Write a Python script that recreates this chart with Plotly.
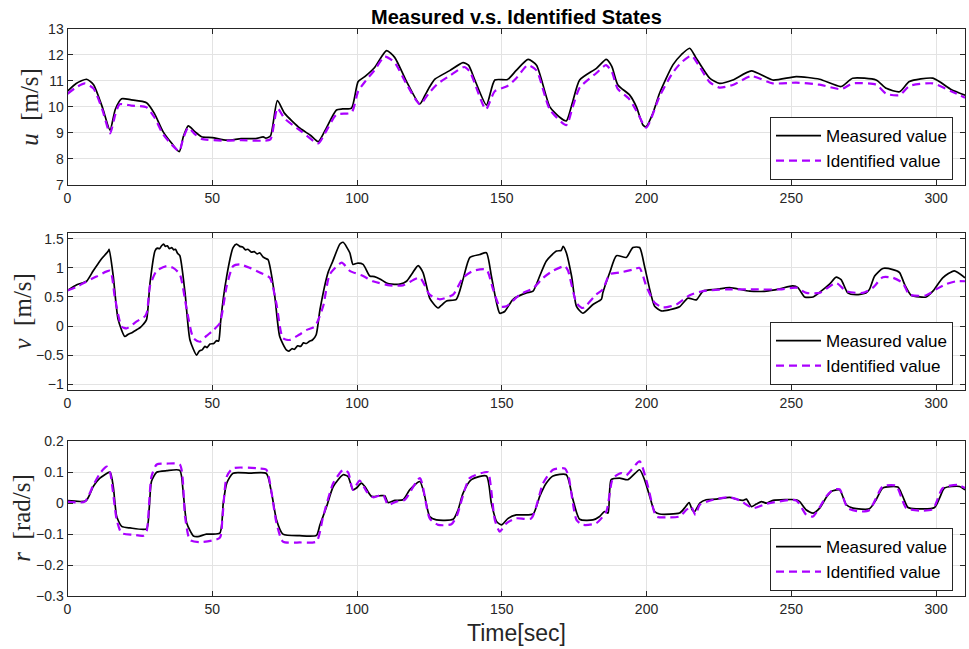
import plotly.graph_objects as go

# ---------------- data (time [s], value) ----------------
u_measured = [(0,10.6),(3,10.9),(6.6,11.06),(9,10.85),(12,10.0),(14.7,9.11),(16.5,9.9),(18.7,10.31),
    (22,10.27),(27.3,10.16),(30,9.75),(33,9.05),(36,8.6),(38.6,8.28),(40,8.85),(41.7,9.27),(44,9.05),
    (46.3,8.85),(50,8.82),(55,8.72),(60,8.78),(65,8.78),(67.6,8.85),(68.5,8.8),(70.1,8.88),(72.5,10.24),
    (75,9.75),(80.3,9.18),(84,8.9),(86.6,8.66),(89,9.1),(92.9,9.88),(95,9.92),(98.1,9.95),(100.4,10.97),
    (102.7,11.16),(106,11.5),(110.2,12.16),(113,11.9),(117,11.0),(121.7,10.11),(123.5,10.45),(125.1,10.77),
    (126.9,11.06),(132,11.39),(136.6,11.7),(138.5,11.6),(140.7,11.03),(144.7,10.07),(147.6,11.03),
    (152,11.05),(155,11.4),(159.1,11.82),(162,11.6),(166.6,10.0),(170,9.6),(172.3,9.46),(174.5,10.2),
    (176.9,11.03),(182.7,11.48),(186.1,11.82),(188,11.55),(190.1,10.84),(194.2,10.45),(196.5,10.0),
    (198.8,9.3),(199.9,9.24),(202,9.7),(204.5,10.52),(209.1,11.61),(212,12.0),(214.9,12.25),(217,11.9),
    (221.8,11.1),(225.2,10.9),(229.8,11.03),(236.2,11.38),(243.6,11.03),(251.7,11.16),(259.8,11.06),
    (267.2,10.78),(271.2,11.1),(279.3,11.03),(282.8,10.71),(287.4,10.58),(290.8,10.97),(298.9,11.1),
    (305.2,10.67),(310,10.45)]
u_identified = [(0,10.5),(3,10.75),(6,10.9),(9,10.7),(12,9.9),(14.7,8.98),(16.5,9.7),(18,10.1),
    (22,10.05),(27.3,9.98),(30,9.6),(33,8.95),(36,8.55),(38.6,8.3),(40,8.8),(41.7,9.2),(44,8.95),
    (46.3,8.77),(55,8.7),(60,8.72),(67.6,8.7),(70.1,8.75),(72.5,9.95),(75,9.55),(80.3,9.1),(86.6,8.6),
    (89,9.0),(92.9,9.7),(98.1,9.78),(100.4,10.6),(103,11.0),(106,11.4),(109.6,11.93),(113,11.7),
    (117,10.9),(121.7,10.1),(125,10.55),(128,10.9),(132,11.19),(137,11.53),(139,11.35),(141,10.8),
    (144.5,9.9),(147.6,10.6),(152,10.8),(155,11.1),(159,11.6),(162,11.4),(166.6,9.9),(172.3,9.3),
    (174.5,10.0),(177,10.75),(182.7,11.3),(186,11.6),(188,11.35),(190,10.7),(194,10.3),(196.5,9.85),
    (199.9,9.2),(204.5,10.4),(209,11.3),(212,11.7),(215.5,11.97),(218,11.6),(221.8,10.95),(225.2,10.74),
    (230,10.85),(236.2,11.18),(243.6,10.9),(251.7,10.93),(259.8,10.85),(267.2,10.68),(271.2,10.9),
    (279.3,10.85),(282.8,10.5),(287.4,10.45),(290.8,10.8),(298.9,10.9),(305.2,10.6),(310,10.35)]

v_measured = [(0,0.61),(3.2,0.71),(5,0.74),(6.6,0.77),(8.9,0.95),(11.2,1.12),(14.1,1.29),(14.4,1.32),
    (15.8,0.86),(17.5,0.11),(19.8,-0.18),(21,-0.14),(22,-0.12),(23,-0.09),(24,-0.06),(25,-0.03),
    (26.2,0.03),(27.3,0.11),
    (28.5,0.74),(30.2,1.29),(31,1.34),(31.8,1.33),(32.5,1.38),(33.2,1.41),(33.8,1.37),(34.5,1.38),
    (35.2,1.33),(36,1.35),(36.7,1.31),(37.3,1.32),(38,1.25),(38.8,1.21),
    (40.6,0.57),(42.3,-0.24),(44.6,-0.5),(45.5,-0.43),(46.5,-0.41),(47.5,-0.35),(48.2,-0.37),(49.2,-0.31),
    (50.5,-0.30),(51.5,-0.25),(52.2,-0.26),(52.6,-0.12),
    (52.9,0.08),(55,0.86),(57.2,1.35),(58.4,1.41),(59.5,1.37),(60.5,1.36),(61.5,1.31),(62.3,1.32),
    (63.5,1.27),(64.5,1.28),(65.5,1.24),(66.4,1.26),(67.5,1.19),(68.5,1.16),(69.3,1.14),(69.9,1.03),
    (71.6,0.51),(73.3,-0.18),(75.6,-0.41),(76.5,-0.43),(77.5,-0.39),(78.4,-0.40),(79.5,-0.34),(80.5,-0.35),
    (81.5,-0.29),(82.5,-0.30),(83.6,-0.26),(84.6,-0.24),(85.9,-0.15),(87.2,0.28),
    (90,0.92),(91.5,1.1),(94.1,1.41),(95.2,1.44),(97.5,1.26),(98.6,1.06),(100,1.08),
    (102.1,1.06),(104.4,0.86),(106,0.85),(107.9,0.81),(110.2,0.74),(112,0.72),(114.8,0.72),(117.1,0.77),
    (119,0.9),(121.1,1.04),(122.8,0.92),(125.1,0.48),(126.5,0.38),(128,0.31),(129,0.35),(130.9,0.43),
    (134.3,0.46),(136.6,0.8),(139,1.18),(142.4,1.23),(144.7,1.26),(146.4,0.86),(148.2,0.40),(149.3,0.22),
    (151,0.25),(153.9,0.46),(158.5,0.57),(160.8,0.6),(163.1,0.86),(165.4,1.12),(168.9,1.29),(170.5,1.3),
    (171.2,1.37),(172.3,1.26),(174.1,0.86),(175.8,0.34),(178,0.22),(181.5,0.37),(184.4,0.46),(184.9,0.57),
    (187.3,0.92),(189.6,1.21),(193,1.18),(195.3,1.35),(197.6,1.35),(199.3,1.03),(201.1,0.63),(202.8,0.34),
    (205.1,0.26),(208,0.28),(211.4,0.33),(214.3,0.48),(217.2,0.45),(219.5,0.60),(224.1,0.63),(228.7,0.66),
    (235.6,0.60),(241.4,0.60),(246,0.64),(250.5,0.69),(252.3,0.66),(254.6,0.50),(257.5,0.50),(260.3,0.60),
    (263.2,0.72),(265.5,0.84),(267.2,0.80),(269.5,0.57),(272.4,0.54),(275.8,0.57),(277,0.63),(278.8,0.86),
    (281.6,0.99),(285.1,0.97),(287.4,0.92),(289.1,0.72),(291.4,0.53),(294.3,0.50),(296.6,0.50),(298.9,0.60),
    (302.3,0.83),(306.3,0.95),(310,0.83)]
v_identified = [(0,0.61),(3,0.67),(6,0.75),(10,0.85),(14.7,0.95),(16.3,0.51),(18.7,-0.01),(20.4,-0.04),
    (23.9,0.08),(26.8,0.17),(27.5,0.25),(28.5,0.69),(30.8,0.95),(34.3,1.03),(36.5,1.0),(38.8,0.89),
    (41.2,0.28),(43.5,-0.21),(45.8,-0.27),(48,-0.17),(50.4,-0.07),(52.6,0.05),(55,0.69),(57.2,1.03),
    (59.5,1.06),(63,1.0),(66.4,0.92),(69.9,0.83),(72.1,0.40),(74.4,-0.21),(76.7,-0.24),(80,-0.15),
    (82.5,-0.07),(85.4,-0.01),(88.3,0.34),(90.6,0.89),(94.7,1.09),(97.5,0.95),(102.1,0.86),(105.5,0.77),
    (111.3,0.70),(115.9,0.70),(121.7,0.83),(125.1,0.54),(128.6,0.46),(133.2,0.54),(136.6,0.83),
    (140.1,0.95),(144.7,0.97),(147,0.63),(149.3,0.34),(151.6,0.34),(156.2,0.54),(160.8,0.65),(164.3,0.83),
    (167.7,0.95),(171.8,1.03),(172.9,0.95),(175.8,0.40),(178,0.31),(182.6,0.54),(184.9,0.63),(187.3,0.89),
    (190.7,0.92),(195.3,0.97),(197.6,1.0),(199.9,0.69),(202.8,0.40),(205.7,0.32),(210.3,0.37),(214.9,0.53),
    (219.5,0.60),(227.5,0.63),(236.7,0.63),(246,0.63),(251.7,0.66),(255.2,0.57),(259.8,0.57),(265.5,0.74),
    (269,0.60),(274.7,0.57),(278.2,0.66),(281.6,0.84),(285.1,0.83),(288.5,0.74),(290.8,0.54),(296.6,0.53),
    (300,0.63),(303.5,0.72),(306.9,0.77),(310,0.77)]

r_measured = [(0,0.008),(6.4,0.008),(8.9,0.054),(11.2,0.081),(14.7,0.1),(15.8,0.054),(17,-0.043),
    (18.7,-0.075),(21.6,-0.08),(27.3,-0.083),(28.2,-0.02),(29,0.07),(30.8,0.1),(34.3,0.105),(38.8,0.106),
    (40,0.03),(41.2,-0.065),(43.5,-0.106),(45,-0.108),(48,-0.1),(52.6,-0.097),(53.8,0),(55,0.065),
    (57.2,0.097),(63,0.097),(68.7,0.096),(70.5,0.032),(72.2,-0.054),(74.4,-0.1),(80.2,-0.105),(86,-0.104),
    (87.2,-0.07),(89.5,-0.011),(91.8,0.054),(95.2,0.092),(96.9,0.086),(98.6,0.043),(99.8,0.049),
    (101.5,0.065),(102.7,0.054),(105,0.022),(107.9,0.024),(109.6,0.024),(110.7,0.002),(113.1,0.009),
    (115.9,0.011),(118.2,0.043),(121.7,0.07),(123.4,0.022),(125.1,-0.043),(127.4,-0.054),(133.2,-0.052),
    (134.9,-0.022),(136.6,0.032),(139.5,0.076),(144.7,0.088),(146.4,0),(148.2,-0.059),(149.9,-0.07),
    (152.2,-0.049),(155,-0.038),(160.8,-0.035),(163.1,0.022),(165.4,0.065),(167.7,0.088),(172.3,0.092),
    (174.6,0.011),(176.9,-0.052),(181.5,-0.054),(183.8,-0.043),(185.5,-0.027),(186.7,-0.032),(187.8,0.076),
    (190.7,0.081),(193.6,0.076),(197.6,0.108),(199.3,0.076),(201.1,0.022),(202.8,-0.027),(204.5,-0.035),
    (211.4,-0.032),(213.1,-0.016),(214.7,0.002),(215.8,-0.022),(216.6,-0.027),(218.4,0),(220.6,0.011),
    (224.1,0.013),(228.7,0.019),(231,0.013),(233.3,0.009),(234.5,0.013),(236.2,-0.011),(237.9,-0.003),
    (239.7,0.005),(241.4,0),(243.7,0.009),(251.7,0.011),(252.9,0.005),(255.2,-0.022),(257.5,-0.032),
    (259.8,-0.016),(262.1,0.019),(263.8,0.038),(266.7,0.043),(269,-0.005),(271.3,-0.016),(277,-0.018),
    (279.3,0.011),(281.6,0.049),(286.8,0.052),(288.5,0.022),(290.3,-0.014),(293.1,-0.018),(299.5,-0.014),
    (301.2,0.016),(302.9,0.049),(308.1,0.054),(310,0.043)]
r_identified = [(0,0.005),(6,0.005),(9,0.06),(11.5,0.1),(13.6,0.118),(14.7,0.1),(17,-0.054),
    (18.7,-0.097),(22.7,-0.102),(26.2,-0.105),(27.3,-0.092),(29,0.086),(30.8,0.125),(34.3,0.128),
    (38.8,0.125),(40.6,-0.043),(42.3,-0.119),(45.8,-0.126),(52.6,-0.112),(53.5,-0.05),(55,0.086),
    (57.2,0.113),(66.4,0.112),(68.7,0.108),(72.2,-0.065),(74.4,-0.124),(80.2,-0.127),(86,-0.124),
    (88.3,-0.043),(91.8,0.065),(95.2,0.108),(96.9,0.1),(98.6,0.043),(100.9,0.073),(103.3,0.038),
    (105.6,0.019),(109,0.027),(110.7,-0.005),(113.6,0.005),(116.5,0.011),(121.7,0.081),(125.1,-0.049),
    (128,-0.07),(132.6,-0.068),(134.5,-0.04),(138.9,0.081),(144.1,0.1),(145.3,0.1),(147.6,-0.054),
    (149.3,-0.092),(151.6,-0.065),(155,-0.049),(160.2,-0.049),(164.3,0.065),(167.7,0.108),(171.8,0.112),
    (173,0.09),(175.8,-0.054),(178,-0.07),(182.6,-0.065),(186.1,-0.027),(188.4,0.081),(191.3,0.097),
    (193,0.09),(197.6,0.135),(200.5,0.054),(203.4,-0.043),(206.8,-0.046),(211.4,-0.043),(213.7,-0.022),
    (215.4,-0.011),(216.9,-0.038),(218.4,-0.005),(223,0.011),(228.7,0.019),(232.2,0.009),(236.8,-0.016),
    (241.4,-0.002),(251.7,0.009),(255.2,-0.038),(257.5,-0.043),(262.1,0.022),(264.4,0.043),(266.7,0.045),
    (269.5,-0.016),(273.6,-0.027),(277,-0.022),(281.6,0.054),(286.2,0.056),(289.7,-0.016),(294.3,-0.024),
    (298.9,-0.019),(302.3,0.049),(307.5,0.059),(310,0.049)]

x_ticks = [0, 50, 100, 150, 200, 250, 300]
u_ticks = [7, 8, 9, 10, 11, 12, 13]
v_ticks = [-1, -0.5, 0, 0.5, 1, 1.5]
r_ticks = [-0.3, -0.2, -0.1, 0, 0.1, 0.2]
series_names = ["Measured value", "Identified value"]

# ---------------- figure ----------------
W, H = 969, 649
MEAS_COLOR = "#000000"
ID_COLOR = "#aa00ff"
AX = "#262626"
GRID = "#e3e3e3"
SANS = "Liberation Sans, Arial, sans-serif"
SERIF = "Liberation Serif, DejaVu Serif, serif"

panels = [
    (u_measured, u_identified, [7, 13], u_ticks, (28.7, 185.0), "<i>u</i>&nbsp;&nbsp;[m/s]", 30, (125, 172)),
    (v_measured, v_identified, [-1.1, 1.6], v_ticks, (233.0, 390.0), "<i>v</i>&nbsp;&nbsp;[m/s]", 22, (330, 377)),
    (r_measured, r_identified, [-0.3, 0.2], r_ticks, (441.3, 596.0), "<i>r</i>&nbsp;&nbsp;[rad/s]", 22, (536, 583)),
]

fig = go.Figure()
x0, x1 = 67.5 / W, 965.0 / W
annotations = []
layout = {}
for i, (meas, ident, yr, yt, (ptop, pbot), ylab, labx, (lt, lb)) in enumerate(panels):
    n = i + 1
    xa = "x" if n == 1 else f"x{n}"
    ya = "y" if n == 1 else f"y{n}"
    lg = "legend" if n == 1 else f"legend{n}"
    fig.add_trace(go.Scatter(x=[p[0] for p in meas], y=[p[1] for p in meas], mode="lines",
                             name=series_names[0],
                             line=dict(color=MEAS_COLOR, width=1.7, shape="spline", smoothing=0.6),
                             xaxis=xa, yaxis=ya, legend=lg))
    fig.add_trace(go.Scatter(x=[p[0] for p in ident], y=[p[1] for p in ident], mode="lines",
                             name=series_names[1],
                             line=dict(color=ID_COLOR, width=2.2, dash="8px,5px", shape="spline",
                                       smoothing=0.6),
                             xaxis=xa, yaxis=ya, legend=lg))
    key = "" if n == 1 else str(n)
    common = dict(showgrid=True, gridcolor=GRID, gridwidth=1, zeroline=False,
                  showline=True, linecolor=AX, linewidth=1, mirror="ticks",
                  ticks="inside", ticklen=5, tickcolor=AX, automargin=False,
                  tickfont=dict(family=SANS, size=14, color=AX))
    layout[f"xaxis{key}"] = dict(domain=[x0, x1], range=[0, 310], anchor=ya, tickvals=x_ticks, **common)
    layout[f"yaxis{key}"] = dict(domain=[1 - pbot / H, 1 - ptop / H], range=yr, anchor=xa, tickvals=yt,
                                 **common)
    # legend box centred on the reference box
    layout[lg] = dict(x=953 / W, xanchor="right", y=1 - (lt + lb) / 2 / H, yanchor="middle",
                      bgcolor="white", bordercolor=AX, borderwidth=1,
                      font=dict(family=SANS, size=17, color="#000000"), tracegroupgap=0,
                      itemwidth=45)
    annotations.append(dict(text=ylab, x=labx / W, y=1 - (ptop + pbot) / 2 / H, xref="paper", yref="paper",
                            textangle=-90, showarrow=False, font=dict(family=SERIF, size=25, color=AX),
                            xanchor="center", yanchor="middle"))

annotations.append(dict(text="<b>Measured v.s. Identified States</b>", x=516 / W, y=1 - 17 / H,
                        xref="paper", yref="paper", showarrow=False, xanchor="center", yanchor="middle",
                        font=dict(family=SANS, size=20, color="#000000")))
annotations.append(dict(text="Time[sec]", x=516 / W, y=1 - 633 / H, xref="paper", yref="paper",
                        showarrow=False, xanchor="center", yanchor="middle",
                        font=dict(family=SANS, size=23, color=AX)))

fig.update_layout(width=W, height=H, margin=dict(l=0, r=0, t=0, b=0),
                  paper_bgcolor="white", plot_bgcolor="white", showlegend=True,
                  annotations=annotations, **layout)
fig.write_html("out.html", config={"displayModeBar": False},
               post_script="document.body.style.margin='0';document.body.style.overflow='hidden';")
